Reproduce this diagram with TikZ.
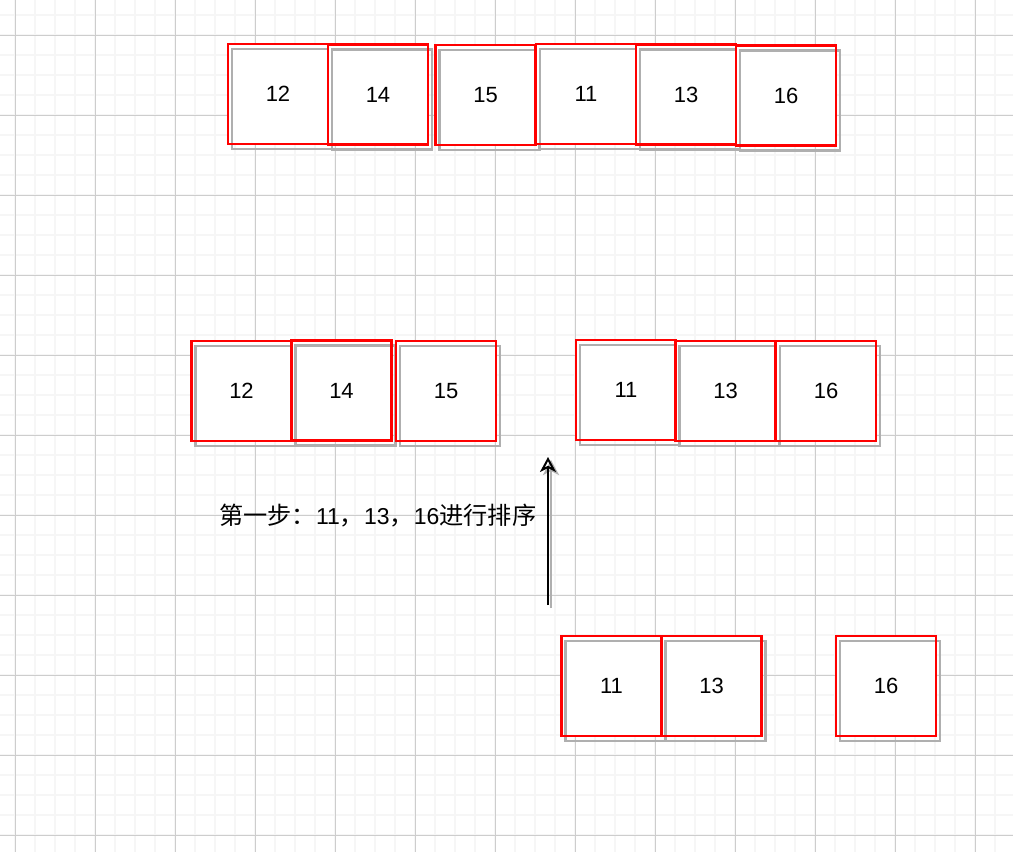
\documentclass[tikz,border=0pt]{standalone}
\usepackage{fontspec}
\setmainfont{Liberation Sans}
\newfontfamily\cjk{Noto Sans CJK SC}
\usetikzlibrary{arrows.meta}
\definecolor{minorgrid}{RGB}{246,246,246}
\definecolor{majorgrid}{RGB}{205,205,205}
\definecolor{boxred}{RGB}{255,0,0}
\definecolor{shadowgray}{RGB}{175,175,175}
\begin{document}
\begin{tikzpicture}[x=1pt,y=-1pt,
  minorline/.style={draw=minorgrid,line width=2pt},
  majorline/.style={draw=majorgrid,line width=1pt},
  numbox/.style={rectangle,minimum width=100pt,minimum height=100pt,inner sep=0pt,
    font=\fontsize{22}{26}\selectfont,
    preaction={fill=white},
    preaction={draw=shadowgray,line width=2.8pt,transform canvas={shift={(4pt,-5pt)}}},
    draw=boxred,line width=2.2pt},
  sortarrow/.style={draw=black,line width=2pt,-{Stealth[open,length=15pt,width=16pt,inset=4pt,line width=2pt]},
    preaction={draw=shadowgray,line width=2pt,transform canvas={shift={(3pt,-3pt)}}}},
  caption/.style={anchor=west,inner sep=0pt}
]
\useasboundingbox (0,0) rectangle (1013,852);
\fill[white] (0,0) rectangle (1013,852);
% grid
\foreach \x in {15,35,...,1013} \draw[minorline] (\x,0) -- (\x,852);
\foreach \y in {15,35,...,852} \draw[minorline] (0,\y) -- (1013,\y);
\foreach \x in {15,95,...,1013} \draw[majorline] (\x,0) -- (\x,852);
\foreach \y in {35,115,...,852} \draw[majorline] (0,\y) -- (1013,\y);
% top row
\node[numbox] (t12) at (278,94) {12};
\node[numbox] (t14) at (378,94.5) {14};
\node[numbox] (t15) at (485.5,95) {15};
\node[numbox] (t11) at (586,94) {11};
\node[numbox] (t13) at (686,94.5) {13};
\node[numbox] (t16) at (786,95.5) {16};
% middle row
\node[numbox] (m12) at (241.5,391) {12};
\node[numbox] (m14) at (341.5,390.5) {14};
\node[numbox] (m15) at (446,391) {15};
\node[numbox] (m11) at (626,390) {11};
\node[numbox] (m13) at (725.5,391) {13};
\node[numbox] (m16) at (826,391) {16};
% bottom row
\node[numbox] (b11) at (611.5,686) {11};
\node[numbox] (b13) at (711.5,686) {13};
\node[numbox] (b16) at (886,686) {16};
% arrow
\coordinate (arrowstart) at (548,605);
\coordinate (arrowend) at (548,457);
\draw[sortarrow] (arrowstart) -- (arrowend);
% caption
\node[caption] (step1) at (219,516) {\fontsize{23}{26}\selectfont{\cjk\fontsize{24.2}{26}\selectfont 第一步：}11{\cjk\fontsize{24.2}{26}\selectfont ，}13{\cjk\fontsize{24.2}{26}\selectfont ，}16{\cjk\fontsize{24.2}{26}\selectfont 进行排序}};
\end{tikzpicture}
\end{document}
